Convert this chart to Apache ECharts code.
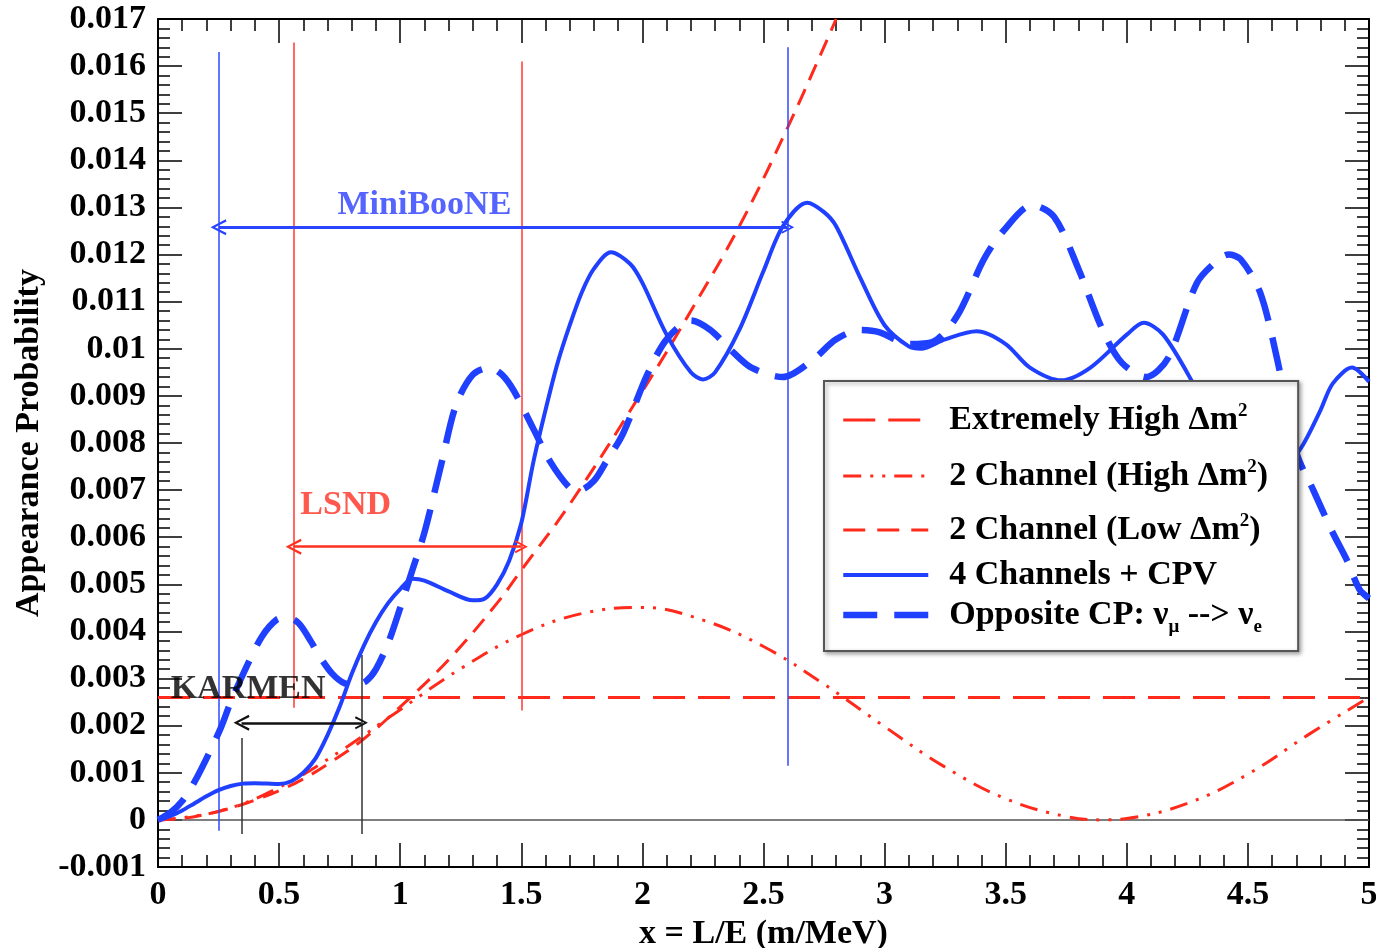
<!DOCTYPE html>
<html><head><meta charset="utf-8">
<script src="https://cdn.jsdelivr.net/npm/echarts@6/dist/echarts.min.js"></script>
<style>html,body{margin:0;padding:0;background:#fff;} #c{width:1376px;height:948px;}</style>
</head><body><div id="c"></div>
<script>
// ---------- data ----------
const seriesNames = ['Extremely High Δm2', '2 Channel (High Δm2)', '2 Channel (Low Δm2)', '4 Channels + CPV', 'Opposite CP'];

const extremeX = [0, 5];
const extremeY = [0.0026, 0.0026];

const highX = [0, 0.25, 0.5, 0.75, 1.0, 1.25, 1.5, 1.75, 2.0, 2.25, 2.5, 2.75, 3.0, 3.25, 3.5, 3.75, 3.9, 4.0, 4.25, 4.5, 4.75, 5.0];
const highY = [0, 0.00018, 0.00069, 0.00145, 0.00234, 0.00321, 0.00393, 0.00438, 0.00451, 0.00424, 0.00368, 0.00288, 0.00198, 0.00112, 0.00045, 0.00007, 0.0, 0.00003, 0.00035, 0.00097, 0.00181, 0.0026];

const lowX = [0, 0.1, 0.2, 0.3, 0.4, 0.5, 0.6, 0.7, 0.84, 1.0, 1.2, 1.4, 1.5, 1.7, 2.0, 2.2, 2.4, 2.6, 2.8];
const lowY = [0, 0.00003, 0.00012, 0.00025, 0.00042, 0.00062, 0.00087, 0.00118, 0.00168, 0.0024, 0.0034, 0.0046, 0.0053, 0.0067, 0.0091, 0.0108, 0.0126, 0.0147, 0.0170];

const cpvX = [0, 0.05, 0.1, 0.15, 0.2, 0.25, 0.3, 0.35, 0.4, 0.45, 0.5, 0.55, 0.6, 0.65, 0.7, 0.75, 0.8, 0.85, 0.9, 0.95, 1.0, 1.05, 1.1, 1.2, 1.3, 1.35, 1.4, 1.45, 1.5, 1.55, 1.6, 1.65, 1.7, 1.75, 1.8, 1.87, 1.95, 2.0, 2.1, 2.2, 2.25, 2.3, 2.4, 2.5, 2.58, 2.68, 2.75, 2.8, 2.9, 3.0, 3.1, 3.15, 3.25, 3.38, 3.5, 3.6, 3.73, 3.85, 4.0, 4.07, 4.15, 4.27, 4.4, 4.55, 4.65, 4.72, 4.8, 4.85, 4.93, 5.0];
const cpvY = [0, 0.00008, 0.0002, 0.00035, 0.0005, 0.00063, 0.00072, 0.00077, 0.00078, 0.00077, 0.00076, 0.00082, 0.001, 0.0013, 0.0018, 0.0024, 0.0031, 0.0037, 0.0042, 0.0046, 0.0049, 0.00512, 0.00508, 0.00485, 0.00466, 0.0047, 0.005, 0.0055, 0.0063, 0.0076, 0.0087, 0.0097, 0.0105, 0.0112, 0.0117, 0.01205, 0.0118, 0.0114, 0.0103, 0.0095, 0.00935, 0.0095, 0.0104, 0.01165, 0.0126, 0.0131, 0.0129, 0.0126, 0.0115, 0.0105, 0.01005, 0.0100, 0.0102, 0.01037, 0.0101, 0.0096, 0.00933, 0.0096, 0.0103, 0.01055, 0.0103, 0.0093, 0.0080, 0.0073, 0.0075, 0.0079, 0.0087, 0.00926, 0.0096, 0.0093];

const oppX = [0, 0.05, 0.1, 0.15, 0.2, 0.26, 0.3, 0.37, 0.43, 0.49, 0.53, 0.58, 0.63, 0.67, 0.72, 0.77, 0.82, 0.86, 0.9, 0.95, 1.0, 1.05, 1.1, 1.17, 1.23, 1.3, 1.37, 1.42, 1.47, 1.55, 1.62, 1.7, 1.74, 1.8, 1.85, 1.92, 2.02, 2.1, 2.2, 2.28, 2.37, 2.45, 2.58, 2.7, 2.8, 2.9, 2.98, 3.1, 3.2, 3.3, 3.41, 3.49, 3.61, 3.7, 3.8, 3.9, 3.98, 4.08, 4.17, 4.29, 4.38, 4.42, 4.47, 4.55, 4.62, 4.7, 4.77, 4.85, 4.91, 4.96, 5.0];
const oppY = [0, 0.00015, 0.0004, 0.0008, 0.0013, 0.00196, 0.0025, 0.0033, 0.0039, 0.00425, 0.0043, 0.00418, 0.0038, 0.00345, 0.0031, 0.0029, 0.00287, 0.00295, 0.0032, 0.00375, 0.0045, 0.0053, 0.0061, 0.00756, 0.0088, 0.00945, 0.0096, 0.00945, 0.0091, 0.0083, 0.0076, 0.00705, 0.0070, 0.0072, 0.0076, 0.0082, 0.00945, 0.0102, 0.0106, 0.0104, 0.00995, 0.0096, 0.0094, 0.00975, 0.0102, 0.0104, 0.01035, 0.0101, 0.01015, 0.0107, 0.0119, 0.0125, 0.01305, 0.0128, 0.0117, 0.0104, 0.0097, 0.0094, 0.0098, 0.0114, 0.0119, 0.0120, 0.0119, 0.0112, 0.0098, 0.0078, 0.0070, 0.0061, 0.0055, 0.0049, 0.0047];

// experiment ranges (x) and annotation levels (y)
const miniBooNE = { range: [0.25, 2.6], arrowY: 0.01258, top: [0.0163, 0.0164], bottom: [-0.00023, 0.00115], labelAt: [1.1, 0.01305] };
const lsnd = { range: [0.56, 1.5], arrowY: 0.0058, top: [0.0165, 0.0161], bottom: [0.00238, 0.00232], labelAt: [0.775, 0.00667] };
const karmen = { range: [0.345, 0.84], arrowY: 0.00206, top: [0.00174, 0.0035], bottom: [-0.0003, -0.0003], labelAt: [0.372, 0.00278] };

// ---------- styling ----------
const RED = '#ff2a1c', BLUE = '#2040ff';
const FONT = '"Liberation Serif", "Times New Roman", serif';
const FS = 34;
const zip = (xs, ys) => xs.map((x, i) => [x, ys[i]]);
const fmt = v => String(Math.round(v * 1000) / 1000);
const chevron = 'path://M5,0 L10,10 L8.6,10.6 L5,3 L1.4,10.6 L0,10 Z';

const dashExtreme = [32, 13], dashHigh = [18, 9, 3, 9, 3, 9], dashLow = [17, 10], dashOpp = [34, 17];

function vlines(exp, color) {
  return {
    type: 'lines', coordinateSystem: 'cartesian2d', silent: true, z: 3,
    symbol: ['none', 'none'],
    lineStyle: { color: color, width: 1.5, opacity: 1, curveness: 0 },
    data: exp.range.map((x, i) => ({ coords: [[x, exp.top[i]], [x, exp.bottom[i]]] }))
  };
}
function arrow(exp, color, w) {
  return {
    type: 'lines', coordinateSystem: 'cartesian2d', silent: true, z: 4,
    symbol: [chevron, chevron], symbolSize: [16, 13],
    lineStyle: { color: color, width: w, opacity: 1, curveness: 0 },
    data: [{ coords: [[exp.range[0], exp.arrowY], [exp.range[1], exp.arrowY]] }]
  };
}
function label(exp, text, color) {
  return {
    type: 'scatter', silent: true, z: 6, symbolSize: 1,
    itemStyle: { color: 'rgba(0,0,0,0)' },
    data: [exp.labelAt],
    label: { show: true, position: 'inside', formatter: text, color: color, fontFamily: FONT, fontWeight: 'bold', fontSize: FS }
  };
}

const tickStyle = { color: '#000', width: 1.5 };
function xAx(pos) {
  return {
    type: 'value', min: 0, max: 5, interval: 0.5, position: pos,
    axisLine: { show: true, onZero: false, lineStyle: { color: '#000', width: 2 } },
    axisTick: { show: true, inside: true, length: 24, lineStyle: tickStyle },
    minorTick: { show: true, splitNumber: 5, length: 12, lineStyle: tickStyle },
    splitLine: { show: false }, minorSplitLine: { show: false },
    axisLabel: pos === 'bottom' ? { show: true, margin: 11, formatter: fmt, color: '#000', fontFamily: FONT, fontWeight: 'bold', fontSize: FS } : { show: false },
    name: pos === 'bottom' ? 'x = L/E (m/MeV)' : '',
    nameLocation: 'middle', nameGap: 46,
    nameTextStyle: { color: '#000', fontFamily: FONT, fontWeight: 'bold', fontSize: FS }
  };
}
function yAx(pos) {
  return {
    type: 'value', min: -0.001, max: 0.017, interval: 0.001, position: pos,
    axisLine: { show: true, onZero: false, lineStyle: { color: '#000', width: 2 } },
    axisTick: { show: true, inside: true, length: 24, lineStyle: tickStyle },
    minorTick: { show: true, splitNumber: 5, length: 12, lineStyle: tickStyle },
    splitLine: { show: false }, minorSplitLine: { show: false },
    axisLabel: pos === 'left' ? { show: true, margin: 12, formatter: fmt, color: '#000', fontFamily: FONT, fontWeight: 'bold', fontSize: FS } : { show: false },
    name: pos === 'left' ? 'Appearance Probability' : '',
    nameLocation: 'middle', nameGap: 112, nameRotate: 90,
    nameTextStyle: { color: '#000', fontFamily: FONT, fontWeight: 'bold', fontSize: FS }
  };
}

const legendText = {
  'Extremely High Δm2': 'Extremely High Δm{sup|2}',
  '2 Channel (High Δm2)': '2 Channel (High Δm{sup|2})',
  '2 Channel (Low Δm2)': '2 Channel (Low Δm{sup|2})',
  '4 Channels + CPV': '4 Channels + CPV',
  'Opposite CP': 'Opposite CP: ν{sub|μ} --> ν{sub|e}'
};
const legendPad = [11, 9, 9, 0, 0];
const legendLines = [
  { color: RED, width: 3, type: dashExtreme },
  { color: RED, width: 3, type: dashHigh },
  { color: RED, width: 3, type: [22, 12] },
  { color: BLUE, width: 4, type: 'solid' },
  { color: BLUE, width: 6.5, type: [34, 17] }
];
const baseTxt = { fontFamily: FONT, fontWeight: 'bold', color: '#000' };

const chart = echarts.init(document.getElementById('c'), null, { renderer: 'canvas' });
chart.setOption({
  animation: false,
  backgroundColor: '#fff',
  grid: { left: 158, right: 7, top: 19, bottom: 81, containLabel: false, outerBoundsMode: 'none' },
  xAxis: [xAx('bottom'), xAx('top')],
  yAxis: [yAx('left'), yAx('right')],
  legend: {
    orient: 'vertical', left: 824, top: 381,
    data: seriesNames.map((n, i) => ({
      name: n,
      lineStyle: legendLines[i],
      textStyle: { padding: [legendPad[i], 0, legendPad[i], 16] }
    })),
    itemWidth: 85, itemHeight: 14, itemGap: 0,
    itemStyle: { opacity: 0 },
    padding: [10, 30, 14, 16],
    backgroundColor: '#fff', borderColor: '#555', borderWidth: 2,
    shadowColor: 'rgba(0,0,0,0.35)', shadowBlur: 4, shadowOffsetX: 2, shadowOffsetY: 2,
    selectedMode: false,
    formatter: n => legendText[n],
    textStyle: Object.assign({}, baseTxt, {
      fontSize: FS, lineHeight: 36,
      rich: {
        sup: Object.assign({}, baseTxt, { fontSize: 19, verticalAlign: 'top', lineHeight: 19 }),
        sub: Object.assign({}, baseTxt, { fontSize: 19, verticalAlign: 'bottom', lineHeight: 44 })
      }
    })
  },
  series: [
    { type: 'line', silent: true, z: 1, symbol: 'none', data: [[0, 0], [5, 0]], lineStyle: { color: '#555', width: 1.5 } },
    vlines(miniBooNE, '#3048ff'), vlines(lsnd, '#ff3a30'), vlines(karmen, '#333'),
    { name: seriesNames[0], type: 'line', z: 2, symbol: 'none', data: zip(extremeX, extremeY), lineStyle: { color: RED, width: 3, type: dashExtreme }, itemStyle: { color: RED } },
    { name: seriesNames[1], type: 'line', z: 2, symbol: 'none', smooth: 0.4, data: zip(highX, highY), lineStyle: { color: RED, width: 3, type: dashHigh }, itemStyle: { color: RED } },
    { name: seriesNames[2], type: 'line', z: 2, symbol: 'none', smooth: 0.4, data: zip(lowX, lowY), lineStyle: { color: RED, width: 3, type: dashLow }, itemStyle: { color: RED } },
    { name: seriesNames[3], type: 'line', z: 3, symbol: 'none', smooth: 0.3, data: zip(cpvX, cpvY), lineStyle: { color: BLUE, width: 4 }, itemStyle: { color: BLUE } },
    { name: seriesNames[4], type: 'line', z: 3, symbol: 'none', smooth: 0.3, data: zip(oppX, oppY), lineStyle: { color: BLUE, width: 6.5, type: dashOpp }, itemStyle: { color: BLUE } },
    arrow(miniBooNE, '#2a44ff', 3), arrow(lsnd, '#ff3020', 2.5), arrow(karmen, '#111', 2.5),
    label(miniBooNE, 'MiniBooNE', '#2a3cff'), label(lsnd, 'LSND', '#ff3020'), label(karmen, 'KARMEN', '#000')
  ]
});
</script>
</body></html>
